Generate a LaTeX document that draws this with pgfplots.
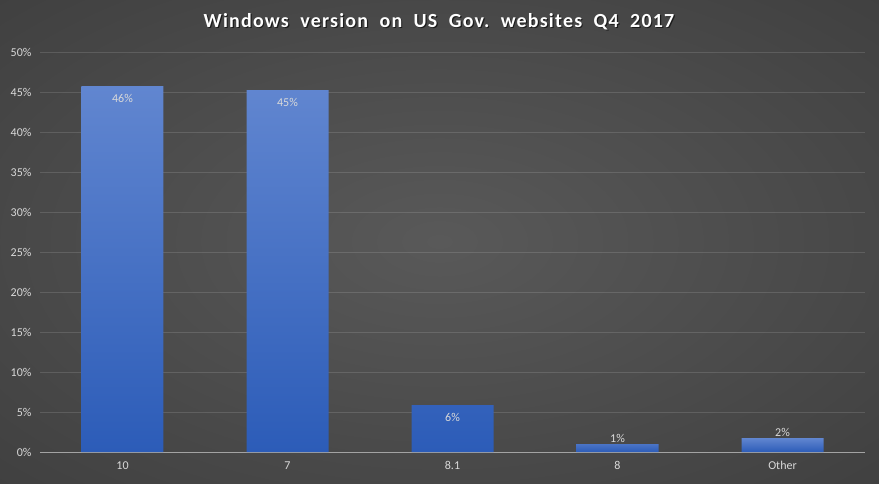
\documentclass[border=0pt]{standalone}
\usepackage{pgfplots}
\pgfplotsset{compat=1.18}
\usepackage{fontspec}
\setmainfont{Carlito}
\newfontfamily\titlefont[LetterSpace=6]{Carlito}

\definecolor{barTop}{HTML}{6186D0}
\definecolor{barBot}{HTML}{2C5CB8}
\definecolor{lbl}{HTML}{D9D9D9}
\definecolor{bgc}{HTML}{595959}
\definecolor{bgm}{HTML}{363636}
\definecolor{bge}{HTML}{222222}
\pgfdeclareradialshading{bgshade}{\pgfpoint{0bp}{0bp}}{color(0bp)=(bgc); color(50bp)=(bgm); color(72bp)=(bge); color(100bp)=(bge)}

\begin{document}
\begin{tikzpicture}[x=1pt,y=1pt]
  \shade[shading=bgshade] (0,0) rectangle (879,483);
  \path[use as bounding box] (0,0) rectangle (879,483);

  % title with a soft shadow
  \node[font=\titlefont\bfseries\fontsize{20}{22}\selectfont, text=black, opacity=0.6] at (440.2,459.8) {Windows\ \ version\ \ on\ \ US\ \ Gov.\ \ websites\ \ Q4\ \ 2017};
  \node[font=\titlefont\bfseries\fontsize{20}{22}\selectfont, text=white] at (439,461) {Windows\ \ version\ \ on\ \ US\ \ Gov.\ \ websites\ \ Q4\ \ 2017};

  \begin{axis}[
      at={(40pt,31pt)}, anchor=south west,
      width=825pt, height=400pt, scale only axis,
      xmin=-0.5, xmax=4.5, ymin=0, ymax=50,
      xtick={0,...,4}, xticklabels={10,7,8.1,8,Other},
      ytick={0,5,...,50},
      yticklabel={\pgfmathprintnumber{\tick}\%},
      /pgf/number format/assume math mode=true,
      major tick length=0pt,
      axis x line*=bottom, axis y line*=left,
      x axis line style={draw=lbl!75!black, line width=1pt, -},
      y axis line style={draw=none},
      ymajorgrids, grid style={white, opacity=0.13, line width=0.8pt},
      tick label style={font=\fontsize{12}{14}\selectfont, text=lbl},
      yticklabel style={anchor=east, xshift=-5pt},
      xticklabel style={anchor=north, yshift=-6pt},
      ybar, bar width=82pt, bar shift=0pt,
      clip=false,
    ]
    \addplot[draw=none, top color=barTop, bottom color=barBot,
      nodes near coords={\pgfmathprintnumber[fixed,precision=0]{\pgfplotspointmeta}\%},
      every node near coord/.append style={anchor=north, yshift=-5pt, text=lbl, font=\fontsize{12}{14}\selectfont}]
      coordinates {(0,45.75) (1,45.25) (2,5.875)};
    \addplot[draw=none, top color=barTop, bottom color=barBot,
      nodes near coords={\pgfmathprintnumber[fixed,precision=0]{\pgfplotspointmeta}\%},
      every node near coord/.append style={anchor=south, yshift=-2pt, text=lbl, font=\fontsize{12}{14}\selectfont}]
      coordinates {(3,1.0) (4,1.75)};
  \end{axis}
\end{tikzpicture}
\end{document}
